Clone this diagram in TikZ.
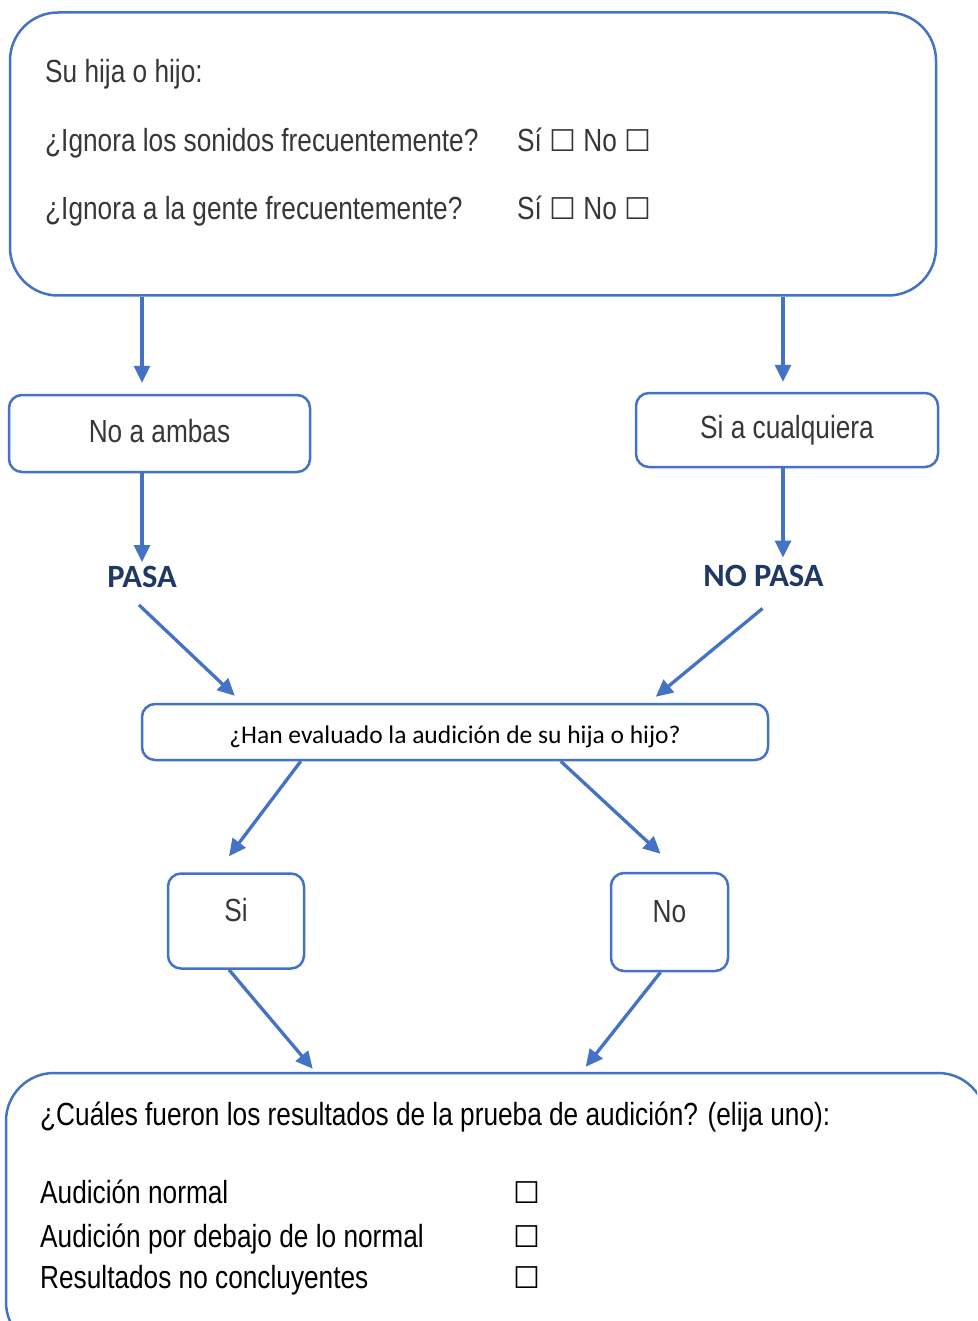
\documentclass[tikz,border=0pt]{standalone}
\usepackage{fontspec}
\usetikzlibrary{arrows.meta,calc}
\newfontfamily\narrowfont{Liberation Sans}[FakeStretch=0.82]
\newfontfamily\califont{Carlito}
\newfontfamily\symbfont{DejaVu Sans}
\definecolor{flowblue}{RGB}{68,114,196}
\definecolor{navy}{RGB}{31,56,100}
\definecolor{textgray}{RGB}{55,55,55}
\newcommand{\cbox}{{\symbfont\fontsize{30}{30}\selectfont ☐}}

\begin{document}
\begin{tikzpicture}
      [x = 1pt, y = -1pt,
      arrow/.style = {
         draw = flowblue,
         line width = 3.3pt,
         -{Triangle[length = 17pt, width = 16pt]}
      },
      panel/.style = {
         draw = flowblue,
         line width = 2.5pt,
         rounded corners = 48pt
      },
      choice/.style = {
         draw = flowblue,
         line width = 2.5pt,
         rounded corners = 13pt,
         inner sep = 0pt,
         text = textgray,
         font = \narrowfont\fontsize{32}{38}\selectfont
      },
      verdict/.style = {
         inner sep = 0pt,
         text = navy,
         font = \califont\bfseries\fontsize{32.5}{38}\selectfont
      },
      line/.style = {
         anchor = base west,
         inner sep = 0pt,
         font = \narrowfont\fontsize{32}{38}\selectfont
      }]
      \clip (0, 0) rectangle (977, 1321);
      \fill[white] (0, 0) rectangle (977, 1321);

      \node[panel, minimum width = 926, minimum height = 283] (screen) at (473, 154) {};
      \node[line, text = textgray] (head) at (45, 83) {Su hija o hijo:};
      \node[line, text = textgray] (sounds) at (45, 152) {¿Ignora los sonidos frecuentemente?};
      \node[line, text = textgray] (soundsans) at (517, 152) {Sí \cbox\ No \cbox};
      \node[line, text = textgray] (people) at (45, 220) {¿Ignora a la gente frecuentemente?};
      \node[line, text = textgray] (peopleans) at (517, 220) {Sí \cbox\ No \cbox};

      \node[choice, minimum width = 301, minimum height = 77, text height = 20, text depth = 3] (noambas) at (159.5, 433.5) {No a ambas};
      \node[choice, minimum width = 302, minimum height = 74] (cualquiera) at (787, 430) {Si a cualquiera};

      \node[verdict] (pasa) at (142, 577) {PASA};
      \node[verdict] (nopasa) at (763.5, 575.5) {NO PASA};

      \node[choice, minimum width = 626, minimum height = 56, text = black, text height = 24, text depth = 2,
         font = \califont\fontsize{25.5}{30}\selectfont] (question) at (455, 732)
         {¿Han evaluado la audición de su hija o hijo?};

      \node[choice, minimum width = 136, minimum height = 95, text height = 23, text depth = 23] (si) at (236, 921) {Si};
      \node[choice, minimum width = 117, minimum height = 98, text height = 23, text depth = 23] (no) at (669.5, 922) {No};

      \node[panel, minimum width = 980, minimum height = 277] (result) at (496, 1211.5) {};
      \node[line] (ask) at (40, 1125) {¿Cuáles fueron los resultados de la prueba de audición? (elija uno):};
      \node[line] (normal) at (40, 1203) {Audición normal};
      \node[line] (below) at (40, 1247) {Audición por debajo de lo normal};
      \node[line] (unclear) at (40, 1288) {Resultados no concluyentes};
      \node[line] (normalbox) at (513, 1203) {\cbox};
      \node[line] (belowbox) at (513, 1247) {\cbox};
      \node[line] (unclearbox) at (513, 1288) {\cbox};

      \coordinate (rx) at ([xshift = -4]cualquiera.north);
      \draw[arrow, shorten > = 11pt] (screen.south -| pasa) -- (noambas.north -| pasa);
      \draw[arrow, shorten > = 10pt] (screen.south -| rx) -- (cualquiera.north -| rx);
      \draw[arrow, shorten > = 4pt] (noambas.south -| pasa) -- (pasa.north);
      \draw[arrow, shorten > = 7pt] (cualquiera.south -| rx) -- (nopasa.north -| rx);

      \draw[arrow] ([shift = {(-3, 17)}]pasa.south) -- ([shift = {(94, -7)}]question.north west);
      \draw[arrow] ([shift = {(-1, 22)}]nopasa.south) -- ([shift = {(515, -6)}]question.north west);

      \draw[arrow] ([xshift = 160]question.south west) -- ([shift = {(-7, -16)}]si.north);
      \draw[arrow] ([xshift = 420]question.south west) -- ([shift = {(-9, -18)}]no.north);

      \draw[arrow] ([xshift = -7]si.south) -- ([shift = {(308, -3)}]result.north west);
      \draw[arrow] ([xshift = -9]no.south) -- ([shift = {(581, -5)}]result.north west);

   \end{tikzpicture}
\end{document}
